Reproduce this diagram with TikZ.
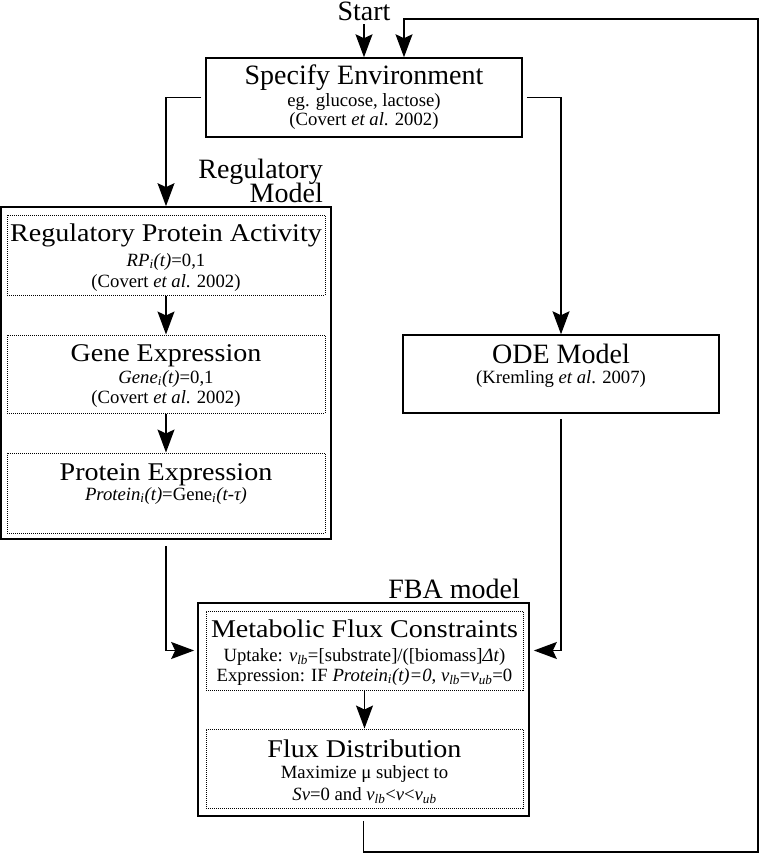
\documentclass[tikz,border=0pt]{standalone}
\usepackage{fontspec}
\setmainfont{Liberation Serif}
\newfontfamily\widefont{Liberation Serif}[FakeStretch=1.1]
\usetikzlibrary{arrows.meta}
\newcommand\Tf{\fontsize{28}{30}\selectfont}
\newcommand\Wf{\widefont\fontsize{25.5}{28}\selectfont}
\newcommand\Sf{\fontsize{18.7}{20}\selectfont}
\newcommand\sbi[1]{\textsubscript{\textit{#1}}}
\begin{document}
\begin{tikzpicture}[x=1pt,y=-1pt,
  solidbox/.style={draw, line width=1.5pt, inner sep=0pt},
  outerbox/.style={draw, line width=1.7pt, inner sep=0pt},
  dotbox/.style={draw, line width=1pt, dash pattern=on 1pt off 1pt, inner sep=0pt},
  txt/.style={align=center, inner sep=0pt, anchor=base, font=\Sf},
  lbl/.style={align=right, inner sep=0pt, font=\Tf},
  conn/.style={line width=1.3pt},
  arr/.style={conn, -{Stealth[length=23pt,width=17pt,inset=4pt]}},
]
\useasboundingbox (0,0) rectangle (760,853);

% boxes
\node[solidbox, minimum width=316pt, minimum height=79pt] (env) at (364,97.5) {};
\node[outerbox, minimum width=330pt, minimum height=332pt] (reg) at (166,373) {};
\node[dotbox, minimum width=318pt, minimum height=80pt] (rpa) at (166,255) {};
\node[dotbox, minimum width=318pt, minimum height=78pt] (gene) at (166,374) {};
\node[dotbox, minimum width=318pt, minimum height=80pt] (prot) at (166,493) {};
\node[solidbox, minimum width=316pt, minimum height=78pt] (ode) at (561,374) {};
\node[outerbox, minimum width=331pt, minimum height=213pt] (fba) at (363.5,709.5) {};
\node[dotbox, minimum width=317pt, minimum height=79pt] (mfc) at (364.5,650.5) {};
\node[dotbox, minimum width=317pt, minimum height=79pt] (fd) at (364.5,768.5) {};

% texts (base anchor = baseline of the last line)
\node[inner sep=0pt, anchor=base, font=\Tf] (start) at (364,21) {Start};
\node[txt] (envT) at (364,126) {{\Tf Specify Environment}\\[2pt] eg. glucose, lactose)\\[-1pt] (Covert \textit{et al}. 2002)};
\node[txt] (rpaT) at (166,287) {{\Wf Regulatory Protein Activity}\\[5pt] \textit{RP}\sbi{i}\textit{(t)}=0,1\\[1pt] (Covert \textit{et al}. 2002)};
\node[txt] (geneT) at (166,403) {{\Wf Gene Expression}\\[2pt] \textit{Gene}\sbi{i}\textit{(t)}=0,1\\[0pt] (Covert \textit{et al}. 2002)};
\node[txt] (protT) at (166,500) {{\Wf Protein Expression}\\ \textit{Protein}\sbi{i}\textit{(t)}=Gene\sbi{i}\textit{(t-τ)}};
\node[txt] (odeT) at (561,383) {{\Tf ODE Model}\\ (Kremling \textit{et al}. 2007)};
\node[txt] (mfcT) at (364.5,681) {{\Wf Metabolic Flux Constraints}\\[4pt] Uptake: \textit{v}\sbi{lb}=[substrate]/([biomass]\textit{Δt})\\[0pt] Expression: IF \textit{Protein}\sbi{i}\textit{(t)=0}, \textit{v}\sbi{lb}=\textit{v}\sbi{ub}=0};
\node[txt] (fdT) at (364.5,800) {{\Wf Flux Distribution}\\[1pt] Maximize μ subject to\\[2pt] \textit{Sv}=0 and \textit{v}\sbi{lb}<\textit{v}<\textit{v}\sbi{ub}};
\node[lbl, anchor=south east] (regL) at (323,203) {Regulatory\\[-6pt]Model};
\node[lbl, anchor=base east] (fbaL) at (520,598) {FBA model};

% connectors
\coordinate (loopBR) at (758,852);
\coordinate (loopTL) at (404,19);
\draw[arr, shorten <=3pt] (start.south) -- (start.south |- env.north);
\draw[arr, shorten <=4pt] (fba.south) |- (loopBR) |- (loopTL) -- (loopTL |- env.north);
\draw[arr, shorten <=4pt] (env.west) -| (reg.north);
\draw[arr, shorten <=4pt] (env.east) -| (ode.north);
\draw[arr] (rpa) -- (gene);
\draw[arr] (gene) -- (prot);
\draw[arr] (mfc) -- (fd);
\draw[arr, shorten <=6pt, shorten >=3pt] (reg.south) |- (fba.west |- mfc.west);
\draw[arr, shorten <=5pt, shorten >=4pt] (ode.south) |- (fba.east |- mfc.east);
\end{tikzpicture}
\end{document}
